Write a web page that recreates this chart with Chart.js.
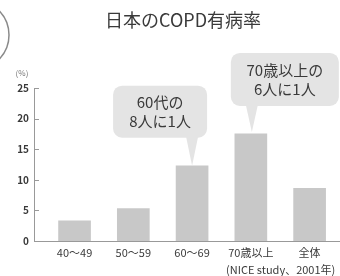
<!DOCTYPE html>
<html>
<head>
<meta charset="utf-8">
<script src="https://cdn.jsdelivr.net/npm/chart.js@4"></script>
<style>
  body { margin: 0; background: #fff; }
  #copdChart { display: block; }
</style>
</head>
<body>
<canvas id="copdChart" width="340" height="276"></canvas>
<script>
const categories = ["40〜49", "50〜59", "60〜69", "70歳以上", "全体"];
const prevalence = [3.3, 5.3, 12.3, 17.5, 8.6];
const yTicks = [0, 5, 10, 15, 20, 25];
const calloutBars = [2, 3];
const calloutLines = [
  ["60代の", "8人に1人"],
  ["70歳以上の", "6人に1人"],
];

const FONT = "'Noto Sans CJK JP', 'Noto Sans', sans-serif";
const TEXT = "#3a3a3a";

// rounded box with a pointer down to the bar top
const drawCallout = (ctx, cx, bottom, w, h, tipX, tipY, lines) => {
  const left = cx - w / 2;
  const top = bottom - h;
  ctx.save();
  ctx.fillStyle = "#e4e4e4";
  ctx.beginPath();
  ctx.roundRect(left, top, w, h, 9);
  ctx.fill();
  ctx.beginPath();
  ctx.moveTo(tipX - 6, bottom - 1);
  ctx.lineTo(tipX + 6, bottom - 1);
  ctx.lineTo(tipX, tipY);
  ctx.closePath();
  ctx.fill();
  ctx.fillStyle = TEXT;
  ctx.font = "15px " + FONT;
  ctx.textAlign = "center";
  ctx.textBaseline = "middle";
  lines.forEach((line, i) => {
    ctx.fillText(line, cx, top + 17 + i * 19);
  });
  ctx.restore();
};

const decorPlugin = {
  id: "decor",
  afterDraw(chart) {
    const ctx = chart.ctx;
    const area = chart.chartArea;
    const yScale = chart.scales.y;

    ctx.save();
    // title
    ctx.fillStyle = TEXT;
    ctx.font = "18px " + FONT;
    ctx.textAlign = "center";
    ctx.textBaseline = "middle";
    ctx.fillText("日本のCOPD有病率", 183, 20);

    // unit label
    ctx.fillStyle = "#777";
    ctx.font = "8px " + FONT;
    ctx.fillText("(%)", 22, 73);

    // source note (cut off at the right edge like the original)
    ctx.fillStyle = TEXT;
    ctx.font = "11px " + FONT;
    ctx.textAlign = "left";
    ctx.fillText("(NICE study、2001年)", 226, 270);

    // cropped circle at the left edge
    ctx.strokeStyle = "#8a8a8a";
    ctx.lineWidth = 1.5;
    ctx.beginPath();
    ctx.arc(-26, 35, 35, 0, Math.PI * 2);
    ctx.stroke();

    // inward tick marks on the y axis
    ctx.strokeStyle = "#999";
    ctx.lineWidth = 1;
    yTicks.forEach((v) => {
      const y = Math.round(yScale.getPixelForValue(v)) + 0.5;
      ctx.beginPath();
      ctx.moveTo(area.left, y);
      ctx.lineTo(area.left + 5, y);
      ctx.stroke();
    });
    ctx.restore();

    // callouts tied to their bars
    const meta = chart.getDatasetMeta(0);
    const b1 = meta.data[calloutBars[0]];
    drawCallout(ctx, b1.x - 32, b1.y - 28, 94, 52, b1.x, b1.y, calloutLines[0]);
    const b2 = meta.data[calloutBars[1]];
    drawCallout(ctx, b2.x + 34, b2.y - 28, 108, 53, b2.x + 1, b2.y - 2, calloutLines[1]);
  },
};

document.addEventListener("DOMContentLoaded", () => {
  const ctx = document.querySelector("#copdChart").getContext("2d");
  new Chart(ctx, {
    type: "bar",
    data: {
      datasets: [
        {
          data: prevalence.map((v, i) => ({ x: i, y: v })),
          backgroundColor: "#c8c8c8",
          borderWidth: 0,
          barThickness: 32,
        },
      ],
    },
    options: {
      responsive: false,
      animation: false,
      layout: { padding: { top: 88, right: 1, left: 0, bottom: 0 } },
      plugins: {
        legend: { display: false },
        tooltip: { enabled: false },
      },
      scales: {
        x: {
          type: "linear",
          offset: false,
          min: -0.69,
          max: 4.5,
          afterBuildTicks: (scale) => {
            scale.ticks = categories.map((c, i) => ({ value: i }));
          },
          afterFit: (scale) => {
            scale.height = 35;
          },
          grid: { display: false, drawTicks: false, offset: false },
          border: { display: true, color: "#999", width: 1 },
          ticks: {
            color: TEXT,
            font: { family: FONT, size: 11 },
            padding: 5,
            maxRotation: 0,
            autoSkip: false,
            callback: (value) => categories[value],
          },
        },
        y: {
          min: 0,
          max: 25,
          afterBuildTicks: (scale) => {
            scale.ticks = yTicks.map((v) => ({ value: v }));
          },
          afterFit: (scale) => {
            scale.width = 34;
          },
          grid: { display: false, drawTicks: false },
          border: { display: true, color: "#999", width: 1 },
          ticks: {
            color: TEXT,
            font: { family: FONT, size: 10, weight: "bold" },
            padding: 5,
          },
        },
      },
    },
    plugins: [decorPlugin],
  });
});
</script>
</body>
</html>
